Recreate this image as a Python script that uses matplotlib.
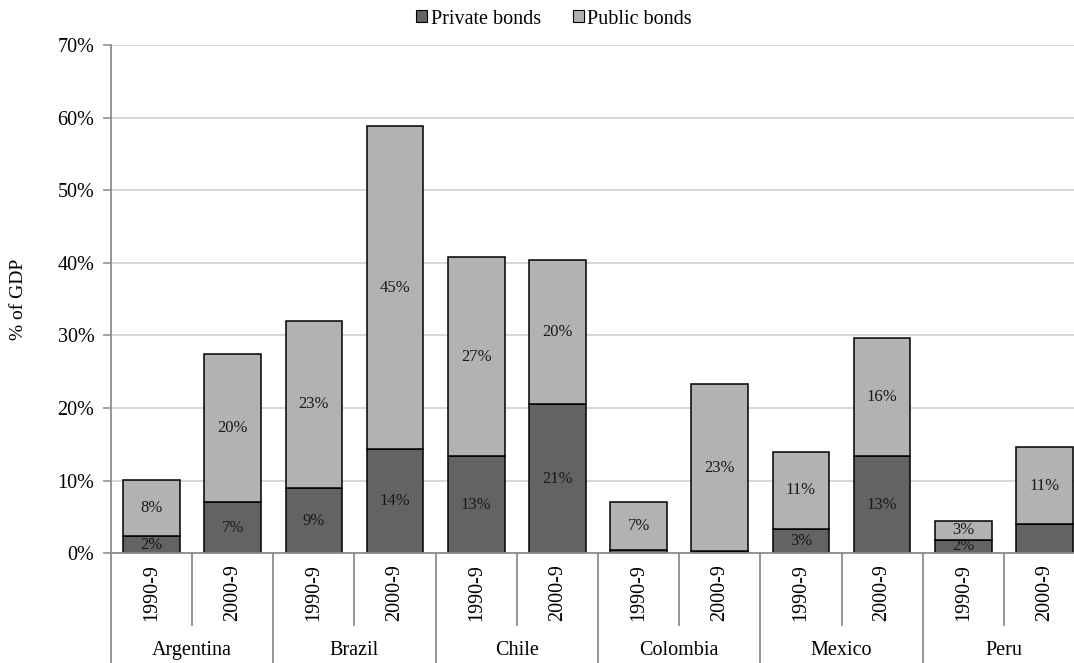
import matplotlib
matplotlib.use("Agg")
import matplotlib.pyplot as plt
from matplotlib.patches import Patch
from matplotlib.ticker import FuncFormatter, MultipleLocator
import numpy as np

plt.rcParams["font.family"] = ["Liberation Serif", "DejaVu Serif"]

countries = ["Argentina", "Brazil", "Chile", "Colombia", "Mexico", "Peru"]
periods = ["1990-9", "2000-9"]

# Bond market size, % of GDP (one value per country/period, in order)
private_bonds = [2.4, 7.0, 9.0, 14.3, 13.4, 20.6, 0.5, 0.3, 3.4, 13.4, 1.9, 4.0]
public_bonds = [7.7, 20.4, 23.0, 44.6, 27.4, 19.8, 6.6, 23.0, 10.6, 16.3, 2.6, 10.6]

# Which segment labels are printed
show_private_label = [True, True, True, True, True, True, False, False, True, True, True, False]
show_public_label = [True] * 12

private_color = "#636363"
public_color = "#b2b2b2"
line_gray = "#8c8c8c"

fig = plt.figure(figsize=(10.74, 6.63), dpi=100)
ax = fig.add_axes([111 / 1074, 1 - 553.3 / 663, 974 / 1074, 508.3 / 663])

n = len(private_bonds)
x = np.arange(n)
width = 0.7
priv = np.array(private_bonds)
pub = np.array(public_bonds)

ax.bar(x, priv, width, color=private_color, edgecolor="black", linewidth=1.1, zorder=3)
ax.bar(x, pub, width, bottom=priv, color=public_color, edgecolor="black", linewidth=1.1, zorder=3)

for i in range(n):
    if show_private_label[i]:
        ax.text(x[i], priv[i] / 2, f"{priv[i]:.0f}%", ha="center", va="center",
                fontsize=12, color="#1a1a1a", zorder=4)
    if show_public_label[i]:
        ax.text(x[i], priv[i] + pub[i] / 2, f"{pub[i]:.0f}%", ha="center", va="center",
                fontsize=12, color="#1a1a1a", zorder=4)

ax.set_xlim(-0.5, n - 0.5)
ax.set_ylim(0, 70)
ax.yaxis.set_major_locator(MultipleLocator(10))
ax.yaxis.set_major_formatter(FuncFormatter(lambda v, p: f"{v:.0f}%"))
ax.tick_params(axis="y", labelsize=14.5, length=6, width=1.1, color=line_gray, pad=6)
ax.set_xticks([])
ax.grid(axis="y", color="#d4d4d4", linewidth=1.3, zorder=0)
ax.set_axisbelow(True)

for side in ["top", "right"]:
    ax.spines[side].set_visible(False)
ax.spines["left"].set_color(line_gray)
ax.spines["left"].set_linewidth(1.3)
ax.spines["bottom"].set_color(line_gray)
ax.spines["bottom"].set_linewidth(1.3)
ax.spines["bottom"].set_zorder(5)

ax.set_ylabel("% of GDP", fontsize=14, labelpad=22)

# Two-level category axis below the plot
tr = ax.get_xaxis_transform()
ax_h = 508.3
short_y = -(625 - 553.3) / ax_h
long_y = -(663 - 553.3) / ax_h
for k in range(n + 1):
    xpos = k - 0.5
    bottom = long_y if k % 2 == 0 else short_y
    ax.plot([xpos, xpos], [0, bottom], transform=tr, color=line_gray,
            linewidth=1.3, clip_on=False, zorder=2)
for i in range(n):
    ax.text(x[i], -(593 - 553.3) / ax_h, periods[i % 2], transform=tr,
            rotation=90, ha="center", va="center", fontsize=14.5)
for g, name in enumerate(countries):
    ax.text(2 * g + 0.5, -(655 - 553.3) / ax_h, name, transform=tr,
            ha="center", va="baseline", fontsize=14.5)

handles = [Patch(facecolor=private_color, edgecolor="black", linewidth=0.8, label="Private bonds"),
           Patch(facecolor=public_color, edgecolor="black", linewidth=0.8, label="Public bonds")]
fig.legend(handles=handles, loc="center", bbox_to_anchor=(554 / 1074, 1 - 19 / 663), ncol=2,
           frameon=False, fontsize=14.5, handlelength=0.55, handleheight=0.55,
           handletextpad=0.15, columnspacing=1.6)

fig.savefig("out.png", dpi=100)
